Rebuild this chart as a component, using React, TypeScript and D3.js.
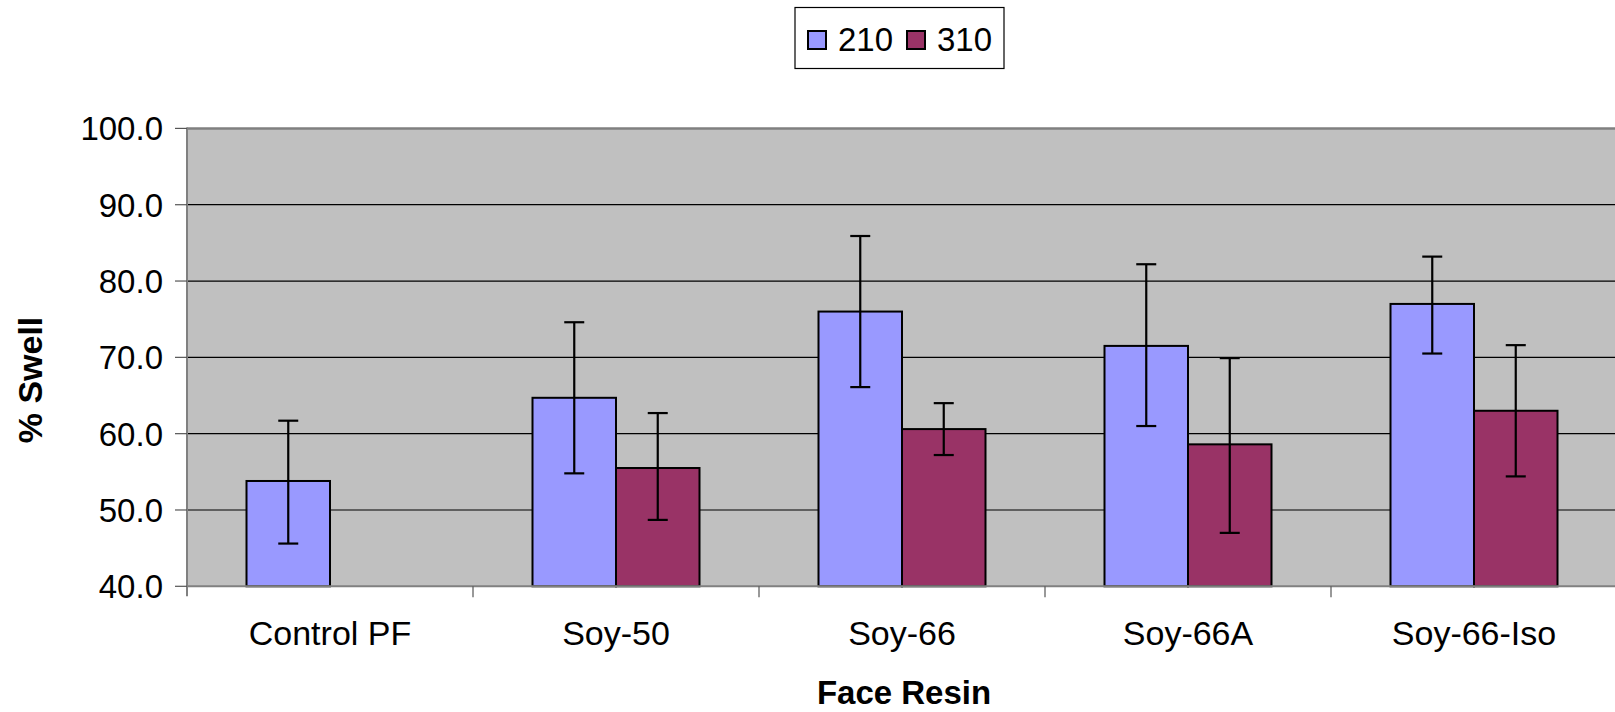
import React from "react";
import * as d3 from "d3";

const categories = ["Control PF", "Soy-50", "Soy-66", "Soy-66A", "Soy-66-Iso"];
const seriesNames = ["210", "310"];
const seriesColors = ["#9999FF", "#993366"];
const values210: (number | null)[] = [53.8, 64.7, 76.0, 71.5, 77.0];
const values310: (number | null)[] = [null, 55.5, 60.6, 58.6, 63.0];
const errHigh210: (number | null)[] = [61.7, 74.6, 85.9, 82.2, 83.2];
const errLow210: (number | null)[] = [45.6, 54.8, 66.1, 61.0, 70.5];
const errHigh310: (number | null)[] = [null, 62.7, 64.0, 69.9, 71.6];
const errLow310: (number | null)[] = [null, 48.7, 57.2, 47.0, 54.4];
const yTicks = [40, 50, 60, 70, 80, 90, 100];

const W = 1615;
const H = 712;
const plotLeft = 187;
const plotRight = 1617;
const plotTop = 128.4;
const plotBottom = 586.3;
const FONT = "Arial, 'Liberation Sans', sans-serif";

export default function App() {
  const y = d3.scaleLinear().domain([40, 100]).range([plotBottom, plotTop]);
  const x0 = d3.scaleBand<string>().domain(categories).range([plotLeft, plotRight]);
  const bw = x0.bandwidth();
  const groupW = bw * (167 / 286);
  const values = [values210, values310];
  const hi = [errHigh210, errHigh310];
  const lo = [errLow210, errLow310];

  return (
    <svg
      width={W}
      height={H}
      style={{ position: "absolute", left: 0, top: 0, background: "#fff" }}
      fontFamily={FONT}
    >
      <rect x={0} y={0} width={W} height={H} fill="#fff" />
      {/* plot background */}
      <rect x={plotLeft} y={plotTop} width={plotRight - plotLeft} height={plotBottom - plotTop} fill="#C0C0C0" />
      {/* gridlines */}
      {yTicks.filter((t) => t > 40 && t < 100).map((t) => (
        <line key={"g" + t} x1={plotLeft} x2={plotRight} y1={y(t)} y2={y(t)} stroke="#000" strokeWidth={1.2} />
      ))}
      {/* top border */}
      <line x1={plotLeft} x2={plotRight} y1={plotTop} y2={plotTop} stroke="#808080" strokeWidth={2.5} />
      {/* bars */}
      {categories.map((c, i) => {
        const x1 = d3
          .scaleBand<string>()
          .domain(seriesNames)
          .range([x0(c)! + (bw - groupW) / 2, x0(c)! + (bw + groupW) / 2]);
        return (
          <g key={c}>
            {seriesNames.map((s, j) => {
              const v = values[j][i];
              if (v == null) return null;
              const bx = x1(s)!;
              const w = x1.bandwidth();
              return (
                <rect
                  key={s}
                  x={bx}
                  y={y(v)}
                  width={w}
                  height={plotBottom - y(v)}
                  fill={seriesColors[j]}
                  stroke="#000"
                  strokeWidth={2}
                />
              );
            })}
            {seriesNames.map((s, j) => {
              const h = hi[j][i];
              const l = lo[j][i];
              if (h == null || l == null) return null;
              const cx = x1(s)! + x1.bandwidth() / 2;
              return (
                <g key={"e" + s} stroke="#000" strokeWidth={2.2}>
                  <line x1={cx} x2={cx} y1={y(h)} y2={y(l)} />
                  <line x1={cx - 10} x2={cx + 10} y1={y(h)} y2={y(h)} />
                  <line x1={cx - 10} x2={cx + 10} y1={y(l)} y2={y(l)} />
                </g>
              );
            })}
          </g>
        );
      })}
      {/* left axis */}
      <line x1={plotLeft} x2={plotLeft} y1={plotTop - 1} y2={plotBottom + 10} stroke="#808080" strokeWidth={2} />
      {yTicks.map((t) => (
        <g key={"t" + t}>
          <line x1={plotLeft - 12} x2={plotLeft} y1={y(t)} y2={y(t)} stroke="#555" strokeWidth={1.2} />
          <text x={163} y={y(t)} dy="0.36em" textAnchor="end" fontSize={33} fill="#000">
            {d3.format(".1f")(t)}
          </text>
        </g>
      ))}
      <text
        transform={`translate(42, 380) rotate(-90)`}
        textAnchor="middle"
        fontSize={34}
        fontWeight="bold"
      >
        % Swell
      </text>
      {/* bottom axis */}
      <line x1={plotLeft} x2={plotRight} y1={plotBottom} y2={plotBottom} stroke="#808080" strokeWidth={2} />
      {categories.map((c, i) =>
        i > 0 ? (
          <line key={"xt" + c} x1={x0(c)!} x2={x0(c)!} y1={plotBottom} y2={plotBottom + 11} stroke="#555" strokeWidth={1.2} />
        ) : null
      )}
      {categories.map((c) => (
        <text key={"xl" + c} x={x0(c)! + bw / 2} y={645} textAnchor="middle" fontSize={34} fill="#000">
          {c}
        </text>
      ))}
      <text x={904} y={704} textAnchor="middle" fontSize={33} fontWeight="bold">
        Face Resin
      </text>
      {/* legend */}
      <rect x={795} y={7.5} width={209} height={61} fill="#fff" stroke="#000" strokeWidth={1.2} />
      {seriesNames.map((s, j) => {
        const lx = [808, 907][j];
        return (
          <g key={"lg" + s}>
            <rect x={lx} y={31} width={18} height={18} fill={seriesColors[j]} stroke="#000" strokeWidth={2} />
            <text x={lx + 30} y={51} fontSize={33} fill="#000">
              {s}
            </text>
          </g>
        );
      })}
    </svg>
  );
}
